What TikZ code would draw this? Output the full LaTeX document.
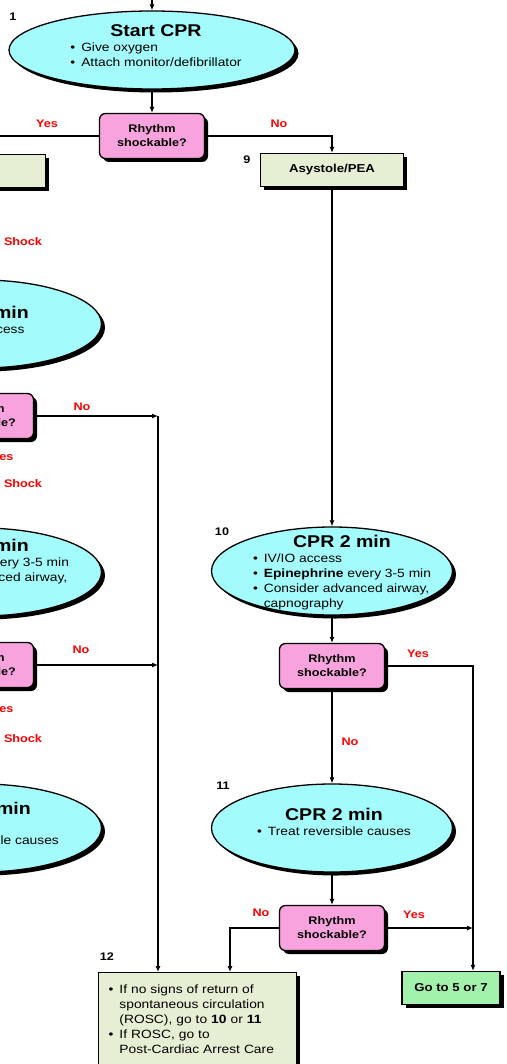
\documentclass[tikz,border=0pt]{standalone}
\usepackage{fontspec}
\setmainfont{Liberation Sans}[FakeStretch=1.15]
\usetikzlibrary{shapes.geometric,shadows,arrows.meta,positioning}

\definecolor{cprcyan}{HTML}{A3FBFB}
\definecolor{askpink}{HTML}{F9A3DE}
\definecolor{stepbeige}{HTML}{E6EFD3}
\definecolor{gogreen}{HTML}{A3F2AB}

\tikzset{
  boxshadow/.style={general shadow={fill=black, shadow xshift=3.5pt, shadow yshift=-3.5pt}},
  cpr/.style={ellipse, draw, line width=1.3pt, fill=cprcyan, boxshadow, inner sep=0pt,
    minimum width=241pt, minimum height=88pt},
  head/.style={inner sep=0pt, font=\fontsize{17}{19}\selectfont\bfseries},
  blist/.style={inner sep=0pt, font=\fontsize{12}{15}\selectfont},
  ask/.style={rectangle, rounded corners=6pt, draw, line width=1.3pt, fill=askpink, boxshadow,
    minimum width=105pt, minimum height=45pt, align=center, font=\fontsize{11}{14}\selectfont\bfseries},
  stepbox/.style={rectangle, draw, line width=1.3pt, fill=stepbeige, boxshadow,
    minimum width=143pt, minimum height=33pt, font=\fontsize{11.5}{14}\selectfont\bfseries},
  yn/.style={text=red, inner sep=0pt, font=\fontsize{11}{13}\selectfont\bfseries},
  num/.style={inner sep=0pt, font=\fontsize{11}{13}\selectfont\bfseries},
  flow/.style={line width=1.1pt, -{Latex[length=6pt,width=5pt]}},
  wire/.style={line width=1.1pt},
}

\newcommand{\bl}{\textbullet}
\newcommand{\blist}[1]{\begin{tabular}{@{}l@{\hspace{6pt}}l@{}}#1\end{tabular}}

\begin{document}
\begin{tikzpicture}[x=1pt, y=-1pt]
    \useasboundingbox (0,0) rectangle (506,1064);
    \clip (0,0) rectangle (506,1064);

    % start
    \coordinate (entry) at (152,-5);
    \node[cpr, minimum width=286pt, minimum height=78pt] (start) at (152,50) {};
    \node[head] (starthead) at (156,31) {Start CPR};
    \node[blist, below=4pt of starthead] (startlist) {\blist{\bl & Give oxygen\\ \bl & Attach monitor/defibrillator}};
    \node[num] (numone) at (13,17) {1};
    \node[ask] (askA) at (152,136) {Rhythm\\shockable?};

    % shockable side, left column
    \node[stepbox] (vfbox) at (-26,171) {VF/pVT};
    \node[cpr] (cprL1) at (-19,324) {};
    \node[head] (cprL1head) at (-20,312) {CPR 2 min};
    \node[blist, below=4pt of cprL1head] (cprL1list) {\blist{\bl & IV/IO access}};
    \node[ask] (askL1) at (-19,416) {Rhythm\\shockable?};
    \node[cpr] (cprL2) at (-19,572) {};
    \node[head] (cprL2head) at (-20,545) {CPR 2 min};
    \node[blist, below=4pt of cprL2head] (cprL2list) {\blist{\bl & \textbf{Epinephrine} every 3-5 min\\ \bl & Consider advanced airway,\\ & capnography}};
    \node[ask] (askL2) at (-19,665) {Rhythm\\shockable?};
    \node[cpr] (cprL3) at (-19,828) {};
    \node[head] (cprL3head) at (-18,808) {CPR 2 min};
    \node[blist, below=4pt of cprL3head] (cprL3list) {\blist{ & \\ \bl & Treat reversible causes}};

    % non-shockable side
    \node[stepbox] (asys) at (332,170) {Asystole/PEA};
    \node[num] (numnine) at (247,160) {9};
    \node[cpr] (cprB) at (332,571) {};
    \node[head] (cprBhead) at (342,541) {CPR 2 min};
    \node[blist, below=4pt of cprBhead] (cprBlist) {\blist{\bl & IV/IO access\\ \bl & \textbf{Epinephrine} every 3-5 min\\ \bl & Consider advanced airway,\\ & capnography}};
    \node[num] (numten) at (222,532) {10};
    \node[ask] (askB) at (332,666) {Rhythm\\shockable?};
    \node[cpr] (cprC) at (332,828) {};
    \node[head] (cprChead) at (334,814) {CPR 2 min};
    \node[blist, below=4pt of cprChead] (cprClist) {\blist{\bl & Treat reversible causes}};
    \node[num] (numeleven) at (223,786) {11};
    \node[ask] (askC) at (332,928) {Rhythm\\shockable?};

    % end boxes
    \node[stepbox, anchor=north west, minimum width=198pt, inner xsep=10pt, inner ysep=10pt,
      text width=178pt, align=left, font=\fontsize{12}{15}\selectfont] (rosc) at (98,972)
      {\blist{\bl & If no signs of return of\\ & spontaneous circulation\\ & (ROSC), go to \textbf{10} or \textbf{11}\\
        \bl & If ROSC, go to\\ & Post-Cardiac Arrest Care}};
    \node[num] (numtwelve) at (107,957) {12};
    \node[stepbox, fill=gogreen, minimum width=98pt] (goto) at (451,988) {Go to 5 or 7};

    \coordinate (gotoin) at ([xshift=22pt]goto.north);
    \coordinate (railtop) at (158,416);
    \coordinate (roscinA) at (158,972);
    \coordinate (roscinB) at ([xshift=132pt]rosc.north west);

    % connectors
    \draw[flow] (entry) -- (start.north);
    \draw[flow] (start.south) -- (askA.north);
    \draw[flow] (askA.west) -| (vfbox.north);
    \draw[flow] (askA.east) -| (asys.north);
    \draw[flow] (vfbox.south -| cprL1.north) -- (cprL1.north);
    \draw[flow] (cprL1.south) -- (askL1.north);
    \draw[flow] (askL1.south) -- (cprL2.north);
    \draw[flow] (cprL2.south) -- (askL2.north);
    \draw[flow] (askL2.south) -- (cprL3.north);
    \draw[flow] (askL1.east) -- (railtop);
    \draw[flow] (askL2.east) -- (askL2.east -| railtop);
    \draw[flow] (railtop) -- (roscinA);
    \draw[flow] (asys.south) -- (cprB.north);
    \draw[flow] (cprB.south) -- (askB.north);
    \draw[flow] (askB.east) -| (gotoin);
    \draw[flow] (askB.south) -- (cprC.north);
    \draw[flow] (cprC.south) -- (askC.north);
    \draw[flow] (askC.east) -- (askC.east -| gotoin);
    \draw[flow] (askC.west) -| (roscinB);

    % branch labels
    \node[yn] (yesA) at (47,124) {Yes};
    \node[yn] (noA) at (279,124) {No};
    \node[yn] (shockA) at (23,242) {Shock};
    \node[yn] (noL1) at (82,407) {No};
    \node[yn] (yesL1) at (2.5,457) {Yes};
    \node[yn] (shockB) at (23,484) {Shock};
    \node[yn] (noL2) at (81,650) {No};
    \node[yn] (yesL2) at (2.5,709) {Yes};
    \node[yn] (shockC) at (23,739) {Shock};
    \node[yn] (yesB) at (418,654) {Yes};
    \node[yn] (noB) at (350,742) {No};
    \node[yn] (noC) at (261,913) {No};
    \node[yn] (yesC) at (414,915) {Yes};
\end{tikzpicture}
\end{document}
